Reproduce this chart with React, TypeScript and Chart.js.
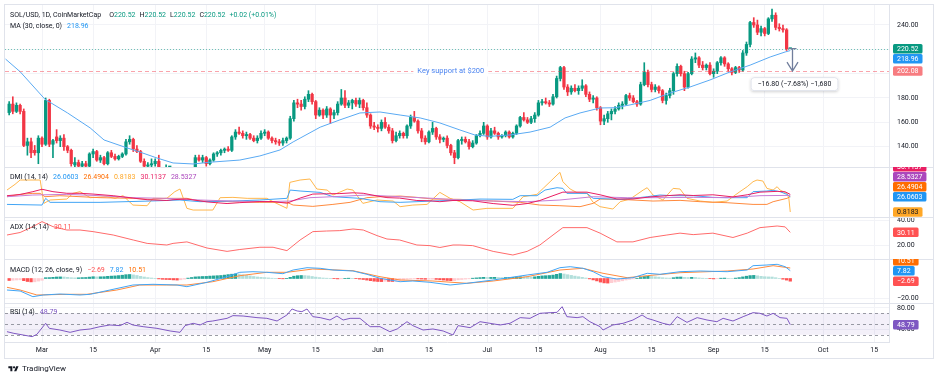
import React, { useEffect, useRef } from "react";
import { Chart, registerables } from "chart.js";

Chart.register(...registerables);

const FONT = "Roboto, 'Noto Sans', sans-serif";
Chart.defaults.font.family = FONT;
Chart.defaults.font.size = 7;
Chart.defaults.color = "#131722";

// ---------------- time axis (day 0 = 1 Mar, one candle per day) ----------------
const FIRST_DAY = -9; // 20 Feb
const X_MIN = -10.14;
const X_MAX = 232.05;
const tickDays = [0, 14, 31, 45, 61, 75, 92, 106, 122, 136, 153, 167, 184, 198, 214, 228];
const tickLabels = ["Mar", "15", "Apr", "15", "May", "15", "Jun", "15", "Jul", "15", "Aug", "15", "Sep", "15", "Oct", "15"];

// ---------------- SOL/USD daily candles [open, high, low, close] ----------------
const ohlc: number[][] = [
  [168, 177, 166, 175], [175, 181, 167, 169], [169, 176, 168, 174], [174, 175, 167, 169], [169, 171, 140, 141],
  [141, 147, 133, 144], [144, 147, 131, 135], [137, 141, 133, 135], [135, 149, 126, 147],
  // Mar
  [147, 148, 140, 142], [142, 180, 141, 178], [178, 179, 140, 142], [142, 146, 131, 145], [148, 154, 143, 145],
  [145, 149, 140, 147], [147, 150, 137, 140], [140, 141, 135, 137], [137, 138, 124, 126], [125, 131, 116, 127],
  [127, 129, 120, 124], [124, 128, 121, 126], [126, 128, 123, 124], [124, 135, 122, 134], [134, 138, 131, 136],
  [136, 137, 128, 129], [129, 133, 127, 131], [131, 132, 125, 126], [126, 136, 125, 135], [135, 137, 131, 132],
  [132, 134, 129, 130], [130, 133, 129, 132], [132, 135, 131, 134], [134, 146, 133, 144], [144, 149, 142, 146],
  [146, 147, 136, 138], [138, 141, 135, 136], [136, 137, 127, 128], [128, 130, 122, 124], [124, 127, 120, 125],
  [125, 130, 123, 126],
  // Apr
  [126, 130, 124, 128], [128, 133, 115, 117], [117, 121, 112, 116], [116, 125, 112, 120], [120, 122, 117, 120],
  [120, 122, 105, 106], [106, 112, 96, 105], [105, 113, 104, 106], [106, 119, 104, 118], [118, 119, 110, 114],
  [114, 123, 113, 122], [122, 133, 120, 131], [131, 133, 128, 129], [129, 133, 127, 131], [131, 132, 124, 126],
  [126, 130, 125, 129], [129, 135, 128, 134], [134, 136, 132, 135], [135, 138, 133, 137], [137, 139, 135, 138],
  [138, 140, 136, 137], [137, 149, 136, 148], [148, 154, 146, 152], [152, 156, 150, 151], [151, 153, 147, 149],
  [149, 152, 146, 150], [150, 151, 146, 147], [147, 149, 144, 145], [145, 149, 143, 147], [147, 153, 146, 151],
  // May
  [151, 154, 149, 152], [152, 153, 146, 147], [147, 148, 143, 145], [145, 147, 142, 144], [144, 146, 141, 143],
  [143, 147, 141, 145], [145, 148, 143, 147], [147, 165, 146, 163], [163, 178, 161, 176], [176, 179, 172, 175],
  [175, 178, 170, 173], [173, 181, 171, 179], [179, 186, 177, 183], [183, 184, 175, 177], [177, 178, 163, 166],
  [166, 172, 165, 170], [170, 171, 163, 166], [166, 173, 164, 171], [171, 172, 159, 166], [166, 170, 163, 168],
  [168, 177, 166, 175], [175, 187, 174, 180], [180, 186, 172, 174], [174, 178, 172, 176], [176, 179, 171, 178],
  [178, 180, 173, 175], [175, 180, 172, 178], [178, 179, 170, 172], [172, 176, 164, 166], [166, 167, 155, 157],
  [157, 160, 154, 156],
  // Jun
  [156, 158, 152, 155], [155, 162, 153, 160], [160, 164, 155, 156], [156, 158, 151, 153], [153, 155, 143, 145],
  [145, 152, 144, 149], [149, 153, 147, 151], [151, 152, 147, 149], [149, 158, 147, 157], [157, 166, 155, 164],
  [164, 169, 160, 161], [161, 162, 151, 153], [153, 155, 144, 147], [147, 149, 142, 144], [144, 153, 143, 152],
  [152, 160, 150, 155], [155, 156, 146, 148], [148, 150, 143, 146], [146, 148, 144, 147], [147, 149, 139, 141],
  [141, 142, 133, 135], [135, 137, 126, 131], [131, 146, 130, 145], [145, 148, 142, 146], [146, 148, 143, 144],
  [144, 146, 138, 140], [140, 145, 139, 143], [143, 150, 142, 149], [149, 153, 148, 151], [151, 160, 150, 157],
  // Jul
  [157, 158, 146, 148], [148, 155, 147, 153], [153, 156, 150, 151], [151, 152, 146, 148], [148, 150, 147, 149],
  [149, 153, 148, 152], [152, 153, 147, 148], [148, 152, 147, 151], [151, 158, 150, 157], [157, 165, 156, 164],
  [164, 168, 161, 162], [162, 164, 159, 160], [160, 165, 159, 163], [163, 168, 160, 166], [166, 178, 165, 176],
  [176, 179, 174, 177], [177, 180, 175, 176], [176, 178, 173, 175], [175, 183, 174, 181], [181, 198, 180, 196],
  [196, 206, 194, 205], [205, 206, 187, 189], [189, 191, 182, 185], [185, 190, 183, 188], [188, 191, 185, 186],
  [186, 190, 183, 188], [188, 195, 186, 190], [190, 191, 181, 183], [183, 185, 177, 179], [179, 182, 176, 180],
  [180, 181, 170, 172],
  // Aug
  [172, 173, 158, 161], [161, 166, 158, 163], [163, 169, 160, 167], [167, 171, 162, 169], [169, 173, 167, 171],
  [171, 176, 170, 174], [174, 177, 171, 175], [175, 183, 174, 182], [182, 184, 178, 180], [180, 182, 176, 177],
  [177, 178, 173, 175], [175, 193, 174, 191], [191, 209, 190, 201], [201, 203, 189, 191], [191, 193, 185, 187],
  [187, 191, 185, 189], [189, 190, 184, 186], [186, 187, 176, 178], [178, 184, 175, 182], [182, 188, 180, 186],
  [186, 201, 183, 200], [200, 208, 198, 206], [206, 207, 198, 200], [200, 202, 186, 189], [189, 201, 188, 200],
  [200, 214, 199, 212], [212, 217, 209, 213], [213, 214, 205, 207], [207, 210, 203, 205], [205, 208, 203, 207],
  [207, 209, 199, 200],
  // Sep
  [200, 204, 197, 202], [202, 210, 200, 209], [209, 214, 207, 213], [213, 214, 206, 208], [208, 209, 202, 204],
  [204, 205, 199, 201], [201, 206, 200, 205], [205, 206, 201, 203], [203, 219, 202, 217], [217, 226, 215, 224],
  [224, 243, 222, 242], [242, 246, 238, 240], [240, 244, 232, 234], [234, 239, 231, 237], [237, 238, 231, 233],
  [233, 246, 232, 245], [245, 253, 243, 248], [248, 250, 236, 238], [238, 241, 235, 237], [237, 240, 234, 236],
  [236, 237, 219, 220.5], [220.52, 220.52, 220.52, 220.52],
];

// MA(30): [day, value]
const maLine = [
  [-10, 212], [-6, 201.6], [0.8, 179], [7, 167.7], [13.2, 155.4], [17, 145.5], [23.3, 139], [26.8, 135.6],
  [31.5, 130.7], [35.9, 126.6], [41.4, 125.8], [46.8, 127.4], [54.2, 129], [59.7, 132.4], [65.2, 137.3],
  [68.8, 143.9], [70.7, 147], [76.2, 156], [81.6, 162], [87.1, 167.7], [92.6, 168.5], [98.1, 166],
  [103.6, 163.6], [109, 159.5], [114.5, 153.7], [118.6, 149.6], [122.7, 148.5], [128.2, 149.6], [133.7, 152],
  [139.2, 156], [143.3, 163.6], [147.4, 167.7], [152.9, 171.8], [157, 172], [161.1, 174.3], [166.6, 178],
  [172, 184], [177.5, 189], [183, 194.8], [188.5, 201.4], [194, 207], [199.5, 213.7], [203.6, 217.8], [205, 218.96],
];

// DMI (14,14)
const plusDI = [
  [-9.6, 13.5], [0, 12.4], [1, 23.6], [2.2, 16.9], [15.9, 16.9], [29.6, 19.1], [37.8, 20.8], [43.3, 18],
  [52.3, 19.1], [59.7, 20.8], [67.1, 23.6], [68, 37.4], [70.7, 35.8], [76.2, 33.5], [79.7, 26.3], [87.1, 23.6],
  [92.6, 18], [98.1, 16.9], [107.1, 19.1], [114.5, 20.8], [120, 22.4], [129, 21.9], [131, 28], [135.6, 28],
  [137.8, 37.4], [141.1, 41.3], [142.7, 40.2], [143.8, 31.9], [149.3, 31.9], [151, 23.6], [158.4, 21.9],
  [161.9, 23.6], [165.8, 26.3], [169.3, 29.1], [172.9, 28], [178.4, 28], [183.8, 25.2], [187.7, 24.7],
  [193.2, 24.7], [194.8, 34.7], [198.6, 35.8], [200.3, 36.9], [202.2, 34.7], [204.1, 30.2], [205, 26.0603],
];
const minusDI = [
  [-9.6, 26.3], [-6, 30.2], [-2.5, 31.9], [-0.5, 31.9], [0.8, 26.3], [4.9, 28], [15.9, 24.7], [24.9, 23.6],
  [29.6, 21.9], [34.2, 23.6], [39.7, 23.6], [43.3, 19.1], [52.3, 18], [59.7, 16.9], [67.1, 16.9], [68.8, 12.4],
  [74.2, 10.2], [79.7, 13.5], [84.4, 16.9], [89, 24.7], [92.6, 26.3], [98.1, 27.4], [102.7, 25.2], [107.1, 22.4],
  [114.5, 21.9], [123.6, 19.1], [131, 16.9], [136.4, 12.4], [141.9, 11.3], [147.4, 9.7], [151, 15.2],
  [152.9, 22.4], [160.3, 21.3], [167.4, 19.1], [174.8, 20.2], [180.3, 18], [187.7, 16.3], [194.8, 13.5],
  [198.6, 13.5], [200.3, 18], [204.1, 23.6], [205, 26.4904],
];
const dxLine = [
  [-9.6, 37.4], [-7.4, 46.9], [-6, 54.1], [-0.5, 54.1], [0.5, 15.2], [2.2, 20.8], [6.8, 22.4], [8.5, 31.9],
  [10.4, 34.7], [13.2, 24.7], [17.8, 26.3], [20, 23.6], [22.2, 28], [24.9, 12.4], [28.8, 11.3], [30.4, 23.6],
  [34.2, 23.6], [36.4, 34.7], [37.8, 39.1], [39.7, 6.9], [41.4, 4.1], [46.8, 4.1], [48.8, 24.7], [52.3, 25.2],
  [56.2, 23.6], [61.6, 23.6], [63.3, 18], [67.1, 6.9], [67.9, 50.2], [70.7, 54.1], [73.4, 55.8], [75.3, 39.1],
  [78.1, 37.4], [79.7, 29.1], [83.6, 39.1], [85.2, 37.4], [87.9, 15.2], [91.8, 20.8], [96.2, 19.1], [98.1, 9.7],
  [101.6, 12.4], [105.5, 13.5], [109, 33.5], [111.8, 23.6], [114.5, 18], [118.1, 4.1], [121.9, 6.9], [129, 6.9],
  [131.8, 26.3], [135.6, 30.2], [137.3, 40.2], [139.2, 51.3], [141.1, 62.4], [141.9, 66.9], [142.7, 51.3],
  [144.7, 39.1], [146.6, 33], [149.3, 31.9], [151, 16.9], [152.9, 9.7], [156.4, 5.8], [158.4, 18], [161.1, 22.4],
  [163, 30.2], [164.7, 37.4], [165.8, 41.3], [167.4, 29.1], [170.1, 20.8], [172.9, 40.2], [174.8, 39.1],
  [176.7, 23.6], [180.3, 19.1], [183.8, 16.9], [187.7, 19.1], [189.3, 26.3], [191.2, 34.7], [193.2, 43],
  [194.8, 51.3], [195.9, 54.1], [197.5, 52.4], [198.6, 40.2], [200.3, 37.4], [201.4, 43], [202.2, 37.4],
  [204.1, 31.9], [204.6, 24], [205, 0.8183],
];
const adxLine = [
  [-9.6, 28], [-6, 30], [-2.5, 34.7], [0, 38.7], [3, 34.7], [6.8, 32], [10.4, 32], [14, 30.7], [19.5, 28],
  [25, 24], [28.8, 21.3], [34.2, 20], [35.9, 21.3], [39.7, 22.5], [45.2, 17.6], [50.7, 14.9], [54.2, 16.4],
  [59.7, 18.2], [63.3, 18.2], [67.1, 15.5], [70.7, 24], [74.2, 30.7], [78, 31.2], [81.6, 31.5], [85.2, 32.8],
  [88, 32], [91.8, 27.5], [94.5, 24.8], [98, 24], [102.7, 20], [106.3, 19.5], [109, 18], [112.6, 20],
  [114.5, 20], [118, 19.5], [123.6, 14.9], [129, 12], [132.9, 14.9], [136.4, 20], [140, 28], [142.7, 33.9],
  [149.3, 33.9], [152.9, 29.5], [157.5, 22.5], [161.9, 22.5], [166.6, 26], [171.2, 28], [174.8, 29.5],
  [178.4, 28.3], [183.8, 29.5], [189.3, 26], [193.2, 29.5], [196.7, 33.9], [201.4, 35.2], [203.6, 34.5], [205, 30.11],
];
const adxrLine = [
  [-9.6, 26.3], [-2.5, 29.1], [6.8, 30.2], [15.9, 28], [24.9, 24.7], [34.2, 23.6], [43.3, 20.8], [52.3, 19.1],
  [61.6, 18], [67.9, 19.1], [73.4, 24.7], [79.7, 26.3], [89, 29.1], [98.1, 26.3], [107.1, 23.6], [114.5, 20.8],
  [123.6, 19.1], [132.9, 18], [141.9, 20.8], [151, 26.3], [160.3, 24.7], [169.3, 24.7], [178.4, 25.2],
  [187.7, 24.7], [196.7, 28], [205, 28.5327],
];

// MACD (12, 26, close, 9)
const macdLine = [
  [-9.6, -11.5], [-6, -12.5], [-2.5, -18.2], [0.3, -16.5], [4.9, -15.5], [10.4, -16.5], [13.2, -15.8],
  [18.6, -11.5], [24.9, -6.5], [30.4, -5.8], [37, -6.5], [39.7, -8.2], [45.2, -3.8], [50.7, 1.8], [54.2, 6.2],
  [57.8, 6.8], [61.6, 6.2], [66, 4.8], [68.8, 8.5], [72.6, 10.8], [76.2, 10.2], [79.7, 8.5], [85.2, 7.5],
  [89, 4.2], [92.6, 0.2], [98.1, -3.2], [101.6, -2.5], [106.3, -3.8], [111.8, -6.5], [116.4, -4.8],
  [123.6, -1.5], [132.9, 3.5], [138.4, 6.2], [141.9, 10.8], [144.7, 11.8], [148.2, 10.2], [151, 6.8],
  [153.7, 1.8], [157.5, -0.5], [161.9, 0.8], [165.8, 5.2], [169.3, 4.2], [174.8, 6.8], [180.3, 7.5],
  [187.7, 6.8], [193.2, 8.5], [194.8, 12.8], [198.6, 13.5], [201.4, 14.2], [203.6, 11.8], [205, 7.82],
];
const signalLine = [
  [-9.6, -8.8], [-6, -11.5], [-1.4, -16.5], [6.8, -15.8], [12.3, -15.8], [20.5, -11.5], [26.8, -6.5],
  [34.2, -6.5], [39.7, -6.5], [46.8, -3.2], [54.2, 2.8], [61.6, 6.2], [67.1, 6.2], [74.2, 9.5], [85.2, 7.8],
  [92.6, 1.8], [98.1, -1.5], [107.1, -2.5], [116.4, -4.8], [123.6, -2.5], [132.9, 1.8], [141.9, 8.5],
  [148.2, 10.2], [153.7, 5.2], [160.3, 0.8], [165.8, 2.8], [174.8, 5.8], [187.7, 7.5], [194.8, 9.5],
  [200.3, 12.8], [205, 10.51],
];
// histogram, one bar per candle (from 20 Feb)
const macdHist = [
  -2.0, -1.8, -1.5, -1.3, -2.2, -3.0, -3.4, -3.3, -2.6, -1.8,
  0.8, 0.9, 1.2, 1.5, 1.6, 1.5, 1.2, 0.8, 0.6, 0.7,
  0.9, 1.0, 1.4, 1.8, 1.6, 1.7, 1.8, 2.2, 2.4, 2.6,
  2.9, 3.3, 3.8, 4.0, 3.6, 3.0, 2.2, 1.5, 0.9, 0.5,
  0.2, -0.4, -0.8, -1.0, -1.1, -1.4, -1.6, -1.3, -0.6, 0.4,
  1.0, 1.6, 1.8, 2.0, 2.1, 2.4, 2.6, 2.8, 3.0, 3.4,
  3.9, 4.3, 4.6, 4.4, 3.8, 3.2, 2.6, 2.0, 1.5, 1.2,
  0.9, 0.6, 0.3, 0.1, -0.2, -0.3, 0.2, 1.2, 2.3, 2.8,
  3.0, 2.9, 2.6, 2.0, 1.4, 0.9, 0.5, 0.3, 0.1, -0.2,
  -0.4, -0.3, 0.2, 0.3, 0.1, -0.2, -0.6, -1.0, -1.6, -2.2,
  -2.7, -3.0, -3.1, -2.8, -2.9, -3.0, -2.7, -2.0, -1.4, -0.8,
  -0.5, -0.3, -0.4, -0.6, -0.8, -0.7, -0.6, -0.9, -1.3, -1.6,
  -2.0, -2.2, -2.1, -1.4, -1.0, -0.6, -0.3, 0.3, 0.6, 0.9,
  1.2, 1.0, 1.1, 1.2, 1.0, 0.9, 1.0, 1.1, 1.2, 1.5,
  1.9, 1.8, 1.6, 1.5, 1.7, 2.2, 2.6, 2.8, 3.0, 3.4,
  4.2, 5.0, 4.5, 3.8, 3.1, 2.4, 1.8, 1.2, 0.5, -0.4,
  -1.4, -2.4, -3.6, -4.4, -4.6, -4.2, -3.6, -3.0, -2.3, -1.5,
  -0.9, -0.4, 0.2, 1.0, 2.0, 2.2, 2.0, 1.7, 1.4, 0.8,
  0.5, 0.4, 0.8, 1.4, 1.5, 1.1, 1.0, 1.2, 1.0, 0.6,
  0.3, 0.2, -0.2, -0.4, -0.1, 0.3, 0.4, 0.2, 0.0, 0.4,
  0.9, 1.6, 2.3, 2.9, 3.1, 2.7, 2.2, 1.8, 1.6, 1.5,
  0.8, 0.1, -0.7, -1.6, -2.69,
];

// RSI (14)
const rsiLine = [
  [-9.6, 35.8], [-7.7, 32.7], [-5.2, 29.7], [-2.7, 26.6], [-1.4, 30.9], [1, 51.3], [2, 42], [4.9, 38.9],
  [7.7, 34.6], [10.4, 38.9], [13.2, 40.8], [15.9, 45.1], [18.6, 48.2], [21.4, 47], [23.3, 53.1], [24.9, 48.2],
  [27.7, 45.1], [31.5, 42], [35.1, 37.1], [37.8, 34.6], [39.2, 47], [41.4, 51.3], [43.3, 48.2], [45.2, 54.3],
  [46.8, 55.6], [50.7, 60.5], [52.3, 65.5], [55.1, 64.8], [58.9, 61.8], [61.6, 60.5], [64.4, 55.6], [67.1, 66.7],
  [68.5, 77.8], [69.9, 74.1], [71.2, 72.9], [72.6, 77.8], [74.2, 63.6], [76.2, 61.8], [78.9, 57.4], [80.8, 64.8],
  [82.5, 57.4], [84.4, 60.5], [87.1, 60.5], [89.9, 45.1], [92.6, 45.1], [95.3, 35.8], [97.3, 40.8], [100, 54.3],
  [101.6, 47], [104.4, 38.9], [107.1, 40.8], [109.9, 37.1], [112.6, 29.7], [114, 47], [117.3, 43.2], [120, 54.3],
  [122.7, 51.3], [125.5, 48.2], [128.2, 51.3], [131, 61.8], [133.7, 60.5], [136.4, 69.8], [139.2, 71],
  [141.1, 71.6], [142.5, 82.1], [143.8, 63.6], [146.6, 61.8], [148.2, 63.6], [150.1, 54.3], [152.9, 45.1],
  [153.7, 38.9], [156.4, 48.2], [159.2, 51.3], [161.9, 57.4], [164.4, 66.7], [165.8, 60.5], [167.4, 57.4],
  [170.1, 51.3], [172.1, 48.2], [174, 63.6], [176.7, 53.1], [179.5, 61.8], [182.2, 57.4], [184.9, 54.3],
  [186.6, 60.5], [189.3, 55.6], [192.1, 63.6], [194.8, 71], [196.7, 69.8], [198.6, 64.8], [200.3, 69.8],
  [202.2, 61.8], [204.1, 60.5], [205, 48.79],
];
const RSI_LEVELS = [70, 50, 30];

// ---------------- annotations / last values ----------------
const LAST_CLOSE = 220.52;
const MA_LAST = 218.96;
const SUPPORT_LEVEL = 202.08;
const SUPPORT_LABEL_DAY = 112;
const SUPPORT_TEXT = "Key support at $200";
const MEASURE_DAY = 205.5;
const MEASURE_TEXT = "\u221216.80 (\u22127.68%) \u22121,680";

const mainTicks = [140, 160, 180, 200, 220, 240];
const adxTicks = [20, 40];
const macdTicks = [-20];
const rsiTicks = [40, 80];

// ---------------- styles ----------------
const UP = "#089981";
const DOWN = "#F23645";
const TXT = "#131722";
const GRID = "#F2F3F7";
const SEP = "#E0E3EB";
const BLUE = "#2196F3";
const ORANGE = "#FF6D00";
const LORANGE = "#FFA726";
const PINK = "#E91E63";
const PURPLE = "#AB47BC";
const RED = "#FF5252";
const RSI_C = "#7E57C2";

const tagsByAxis: Record<string, { v: number; t: string; bg: string; fg?: string }[]> = {
  yMain: [
    { v: LAST_CLOSE, t: "220.52", bg: UP },
    { v: SUPPORT_LEVEL, t: "202.08", bg: "#F77C80" },
    { v: MA_LAST, t: "218.96", bg: BLUE },
  ],
  yDmi: [
    { v: 0.8183, t: "0.8183", bg: LORANGE, fg: TXT },
    { v: 26.0603, t: "26.0603", bg: BLUE },
    { v: 26.4904, t: "26.4904", bg: ORANGE },
    { v: 28.5327, t: "28.5327", bg: PURPLE },
    { v: 30.1137, t: "30.1137", bg: PINK },
  ],
  yAdx: [{ v: 30.11, t: "30.11", bg: RED }],
  yMacd: [
    { v: -2.69, t: "\u22122.69", bg: RED },
    { v: 7.82, t: "7.82", bg: BLUE },
    { v: 10.51, t: "10.51", bg: ORANGE },
  ],
  yRsi: [{ v: 48.79, t: "48.79", bg: RSI_C }],
};

const pts = (a: number[][]) => a.map(([x, y]) => ({ x, y }));
const fmt = (v: number) => (v < 0 ? "\u2212" : "") + Math.abs(v).toFixed(2);

function roundRect(ctx: CanvasRenderingContext2D, x: number, y: number, w: number, h: number, r: number) {
  ctx.beginPath();
  ctx.moveTo(x + r, y);
  ctx.lineTo(x + w - r, y);
  ctx.quadraticCurveTo(x + w, y, x + w, y + r);
  ctx.lineTo(x + w, y + h - r);
  ctx.quadraticCurveTo(x + w, y + h, x + w - r, y + h);
  ctx.lineTo(x + r, y + h);
  ctx.quadraticCurveTo(x, y + h, x, y + h - r);
  ctx.lineTo(x, y + r);
  ctx.quadraticCurveTo(x, y, x + r, y);
  ctx.closePath();
}

const overlayPlugin = {
  id: "tvOverlays",
  beforeDatasetsDraw(chart: any) {
    const { ctx, chartArea: ca, scales } = chart;
    const r = scales.yRsi;
    ctx.save();
    const yTop = r.getPixelForValue(RSI_LEVELS[0]);
    const yBot = r.getPixelForValue(RSI_LEVELS[2]);
    ctx.fillStyle = "rgba(126,87,194,0.09)";
    ctx.fillRect(ca.left, yTop, ca.right - ca.left, yBot - yTop);
    ctx.strokeStyle = "rgba(120,123,134,0.75)";
    ctx.lineWidth = 1;
    ctx.setLineDash([3, 3]);
    RSI_LEVELS.forEach((v) => {
      const y = Math.round(r.getPixelForValue(v)) + 0.5;
      ctx.beginPath();
      ctx.moveTo(ca.left, y);
      ctx.lineTo(ca.right, y);
      ctx.stroke();
    });
    ctx.restore();
  },
  afterDatasetsDraw(chart: any) {
    const { ctx, chartArea: ca, scales } = chart;
    const xs = scales.x;
    const ym = scales.yMain;
    ctx.save();
    ctx.beginPath();
    ctx.rect(ca.left, ym.top, ca.right - ca.left, ym.bottom - ym.top);
    ctx.clip();
    // support line
    const ySup = Math.round(ym.getPixelForValue(SUPPORT_LEVEL)) + 0.5;
    ctx.strokeStyle = "rgba(242,54,69,0.45)";
    ctx.lineWidth = 1;
    ctx.setLineDash([4, 3]);
    ctx.beginPath();
    ctx.moveTo(ca.left, ySup);
    ctx.lineTo(ca.right, ySup);
    ctx.stroke();
    // last price line
    const yP = Math.round(ym.getPixelForValue(LAST_CLOSE)) + 0.5;
    ctx.strokeStyle = "rgba(8,153,129,0.55)";
    ctx.setLineDash([1, 2]);
    ctx.beginPath();
    ctx.moveTo(ca.left, yP);
    ctx.lineTo(ca.right, yP);
    ctx.stroke();
    ctx.setLineDash([]);
    // support label
    ctx.font = `7.5px ${FONT}`;
    const tw = ctx.measureText(SUPPORT_TEXT).width;
    const lx = xs.getPixelForValue(SUPPORT_LABEL_DAY);
    ctx.fillStyle = "#fff";
    ctx.fillRect(lx - tw / 2 - 4, ySup - 5, tw + 8, 10);
    ctx.fillStyle = "#4C84F0";
    ctx.textAlign = "center";
    ctx.textBaseline = "middle";
    ctx.fillText(SUPPORT_TEXT, lx, ySup);
    // measure arrow
    const mx = Math.round(xs.getPixelForValue(MEASURE_DAY)) + 0.5;
    const my1 = ym.getPixelForValue(LAST_CLOSE);
    const my2 = ym.getPixelForValue(SUPPORT_LEVEL);
    ctx.strokeStyle = "#717E9C";
    ctx.lineWidth = 1.3;
    ctx.beginPath();
    ctx.moveTo(mx - 4, my1);
    ctx.lineTo(mx + 4, my1);
    ctx.moveTo(mx, my1);
    ctx.lineTo(mx, my2);
    ctx.moveTo(mx - 5.5, my2 - 9);
    ctx.lineTo(mx, my2);
    ctx.lineTo(mx + 5.5, my2 - 9);
    ctx.stroke();
    // measure label box
    ctx.font = `7px ${FONT}`;
    const mw = ctx.measureText(MEASURE_TEXT).width + 14;
    const bx = mx + 2 - mw / 2;
    const by = my2 + 6;
    ctx.save();
    ctx.shadowColor = "rgba(0,0,0,0.18)";
    ctx.shadowBlur = 3;
    ctx.shadowOffsetY = 1;
    ctx.fillStyle = "#fff";
    roundRect(ctx, bx, by, mw, 14, 3);
    ctx.fill();
    ctx.restore();
    ctx.strokeStyle = "#E0E3EB";
    ctx.lineWidth = 1;
    roundRect(ctx, bx + 0.5, by + 0.5, mw - 1, 13, 3);
    ctx.stroke();
    ctx.fillStyle = TXT;
    ctx.fillText(MEASURE_TEXT, mx + 2, by + 7.5);
    ctx.restore();
  },
  afterDraw(chart: any) {
    const { ctx, chartArea: ca, scales } = chart;
    ctx.save();
    // pane separators
    ctx.strokeStyle = SEP;
    ctx.lineWidth = 1;
    ["yDmi", "yAdx", "yMacd", "yRsi"].forEach((id) => {
      const y = Math.round(scales[id].top) + 0.5;
      ctx.beginPath();
      ctx.moveTo(ca.left, y);
      ctx.lineTo(scales[id].right, y);
      ctx.stroke();
    });
    // outer frame
    ctx.strokeRect(4.5, 4.5, scales.yMain.right - 4, scales.x.bottom - 4);
    // value tags on the price scales
    ctx.font = `7px ${FONT}`;
    ctx.textBaseline = "middle";
    ctx.textAlign = "center";
    Object.keys(tagsByAxis).forEach((id) => {
      const s = scales[id];
      const placed: number[] = [];
      const H = 9.5;
      const GAP = 10;
      ctx.save();
      ctx.beginPath();
      ctx.rect(s.left, s.top, s.right - s.left, s.bottom - s.top);
      ctx.clip();
      tagsByAxis[id].forEach((tag) => {
        const nat = s.getPixelForValue(tag.v);
        let y = nat;
        let dir = 0;
        for (let k = 0; k < 20; k++) {
          const hit = placed.find((p) => Math.abs(p - y) < GAP);
          if (hit === undefined) break;
          if (dir === 0) dir = nat >= hit ? 1 : -1;
          y = hit + dir * GAP;
        }
        placed.push(y);
        const w = ctx.measureText(tag.t).width + 8;
        const bx = s.left + 4;
        ctx.fillStyle = tag.bg;
        roundRect(ctx, bx, y - H / 2, w, H, 1.5);
        ctx.fill();
        ctx.fillStyle = tag.fg || "#fff";
        ctx.fillText(tag.t, bx + w / 2, y + 0.5);
      });
      ctx.restore();
    });
    ctx.restore();
  },
};

function yAxis(weight: number, min: number, max: number, ticks: number[] | null) {
  return {
    type: "linear",
    position: "right",
    stack: "panes",
    stackWeight: weight,
    min,
    max,
    grid: { color: GRID, drawTicks: false, display: !!ticks },
    border: { color: SEP },
    ticks: {
      display: !!ticks,
      padding: 8,
      color: TXT,
      font: { size: 7 },
      callback: (v: number) => fmt(v),
    },
    afterBuildTicks: (s: any) => {
      s.ticks = (ticks || []).map((v) => ({ value: v }));
    },
    afterFit: (s: any) => {
      s.width = 44;
      s.paddingTop = 0;
      s.paddingBottom = 0;
    },
  };
}

export default function App() {
  const ref = useRef<HTMLCanvasElement>(null);

  useEffect(() => {
    const days = ohlc.map((_, i) => FIRST_DAY + i);
    const cColor = ohlc.map((c) => (c[3] >= c[0] ? UP : DOWN));
    const hColor = macdHist.map((v, i) => {
      const prev = i > 0 ? macdHist[i - 1] : v;
      if (v >= 0) return v >= prev ? "#26A69A" : "#B2DFDB";
      return v <= prev ? "#FF5252" : "#FFCDD2";
    });
    const line = (data: number[][], axis: string, color: string, width = 1) => ({
      type: "line",
      data: pts(data),
      xAxisID: "x",
      yAxisID: axis,
      borderColor: color,
      borderWidth: width,
      pointRadius: 0,
      tension: 0,
      clip: 0,
    });

    const chart = new Chart(ref.current as HTMLCanvasElement, {
      type: "bar",
      data: {
        datasets: [
          line(maLine, "yMain", "#5AAAF3"),
          {
            type: "bar",
            data: ohlc.map((c, i) => ({ x: days[i], y: [c[0], c[3]] })),
            yAxisID: "yMain",
            xAxisID: "x",
            backgroundColor: cColor,
            barThickness: 2.6,
            grouped: false,
            minBarLength: 1,
            clip: 0,
          },
          {
            type: "bar",
            data: ohlc.map((c, i) => ({ x: days[i], y: [c[2], c[1]] })),
            yAxisID: "yMain",
            xAxisID: "x",
            backgroundColor: cColor,
            barThickness: 1,
            grouped: false,
            clip: 0,
          },
          line(adxLine, "yDmi", PINK),
          line(adxrLine, "yDmi", "#C77DD6"),
          line(plusDI, "yDmi", "#42A5F5"),
          line(minusDI, "yDmi", "#FF8A3D"),
          line(dxLine, "yDmi", "#FFB74D"),
          line(adxLine, "yAdx", "#FF6B6B"),
          line(macdLine, "yMacd", "#42A5F5"),
          line(signalLine, "yMacd", "#FF8A3D"),
          {
            type: "bar",
            data: macdHist.map((v, i) => ({ x: days[i], y: v })),
            yAxisID: "yMacd",
            xAxisID: "x",
            backgroundColor: hColor,
            barThickness: 2.6,
            grouped: false,
            clip: 0,
          },
          line(rsiLine, "yRsi", RSI_C),
        ] as any,
      },
      options: {
        animation: false,
        responsive: false,
        events: [],
        layout: { padding: { left: 5, top: 5, right: 3, bottom: 21 } },
        plugins: { legend: { display: false }, tooltip: { enabled: false }, title: { display: false } },
        scales: {
          x: {
            type: "linear",
            min: X_MIN,
            max: X_MAX,
            offset: false,
            position: "bottom",
            grid: { color: GRID, drawTicks: false, offset: false },
            border: { color: SEP },
            ticks: {
              autoSkip: false,
              maxRotation: 0,
              padding: 4,
              color: TXT,
              font: { size: 7 },
              callback: (_v: any, i: number) => tickLabels[i] ?? "",
            },
            afterBuildTicks: (s: any) => {
              s.ticks = tickDays.map((v) => ({ value: v }));
            },
            afterFit: (s: any) => {
              s.height = 16;
              s.paddingLeft = 0;
              s.paddingRight = 0;
            },
          },
          yMain: yAxis(162, 123.3, 256.4, mainTicks),
          yDmi: yAxis(50, -7.5, 75.8, null),
          yAdx: yAxis(42, 8.8, 42.4, adxTicks),
          yMacd: yAxis(44, -24.5, 19.5, macdTicks),
          yRsi: yAxis(39, 16.7, 88.9, rsiTicks),
        } as any,
      },
      plugins: [overlayPlugin as any],
    });
    return () => chart.destroy();
  }, []);

  const legend: React.CSSProperties = {
    position: "absolute",
    left: 10,
    fontFamily: FONT,
    fontSize: 7,
    lineHeight: "10px",
    color: TXT,
    whiteSpace: "nowrap",
    display: "flex",
    gap: 5,
  };
  const g = { color: UP };

  return (
    <div style={{ position: "fixed", left: 0, top: 0, width: 936, height: 379, background: "#fff", overflow: "hidden" }}>
      <canvas ref={ref} width={936} height={379} style={{ position: "absolute", left: 0, top: 0, width: 936, height: 379 }} />
      <div style={{ ...legend, top: 10, gap: 4 }}>
        <span style={{ marginRight: 4 }}>SOL/USD, 1D, CoinMarketCap</span>
        <span>O<span style={g}>220.52</span></span>
        <span>H<span style={g}>220.52</span></span>
        <span>L<span style={g}>220.52</span></span>
        <span>C<span style={g}>220.52</span></span>
        <span style={g}>+0.02 (+0.01%)</span>
      </div>
      <div style={{ ...legend, top: 20.5 }}>
        <span>MA (30, close, 0)</span>
        <span style={{ color: BLUE }}>218.96</span>
      </div>
      <div style={{ ...legend, top: 172 }}>
        <span>DMI (14, 14)</span>
        <span style={{ color: BLUE }}>26.0603</span>
        <span style={{ color: ORANGE }}>26.4904</span>
        <span style={{ color: LORANGE }}>0.8183</span>
        <span style={{ color: PINK }}>30.1137</span>
        <span style={{ color: PURPLE }}>28.5327</span>
      </div>
      <div style={{ ...legend, top: 221.5 }}>
        <span>ADX (14, 14)</span>
        <span style={{ color: RED }}>30.11</span>
      </div>
      <div style={{ ...legend, top: 265 }}>
        <span>MACD (12, 26, close, 9)</span>
        <span style={{ color: RED }}>{"\u22122.69"}</span>
        <span style={{ color: BLUE }}>7.82</span>
        <span style={{ color: ORANGE }}>10.51</span>
      </div>
      <div style={{ ...legend, top: 306.5 }}>
        <span>RSI (14)</span>
        <span style={{ color: RSI_C }}>48.79</span>
      </div>
      <div style={{ position: "absolute", left: 8, top: 364, display: "flex", alignItems: "center", gap: 3, fontFamily: FONT, fontSize: 8, lineHeight: "10px", color: TXT }}>
        <svg width="11" height="8" viewBox="0 0 36 28">
          <path d="M14 22H7V11H0V4h14v18z" fill={TXT} />
          <circle cx="20" cy="8" r="4" fill={TXT} />
          <path d="M28 22h-8l7.5-18h8L28 22z" fill={TXT} />
        </svg>
        <span>TradingView</span>
      </div>
    </div>
  );
}
